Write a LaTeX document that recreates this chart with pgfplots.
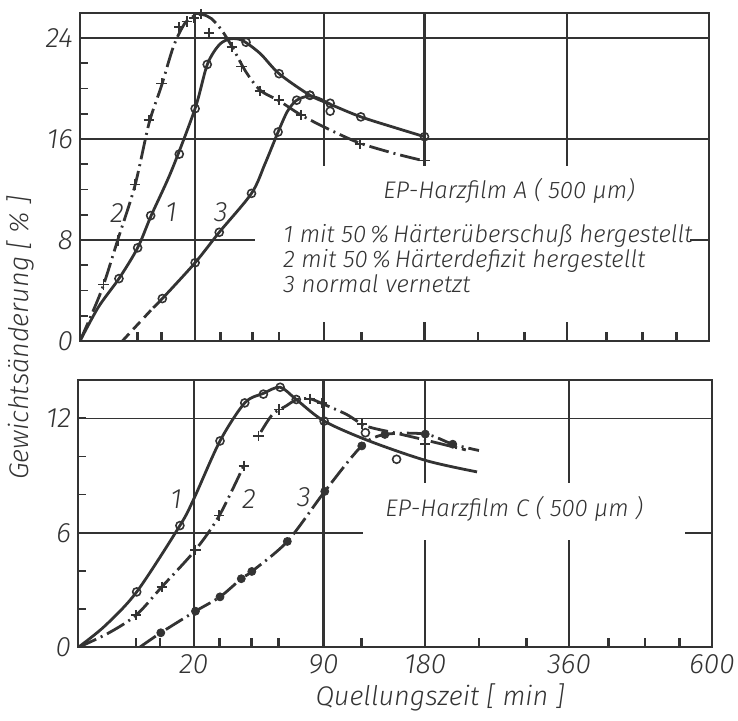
\documentclass[border=0pt]{standalone}
\usepackage{fontspec}
\setmainfont{Fira Sans}[UprightFont={* Light Italic}, ItalicFont={* Light Italic}, BoldFont={* Italic}]
\usepackage{pgfplots}
\pgfplotsset{compat=1.18}
\definecolor{ink}{HTML}{333333}
% x axis: square-root time scale (data given in minutes, plotted at sqrt(t))
\pgfplotsset{
  panel/.style={
    scale only axis,
    x filter/.expression={sqrt(x)},
    xmin=0, xmax=24.4949,
    xtick={4.4721,9.4868,13.4164,18.9737,24.4949},
    minor xtick={2.2361,3.1623,5.4772,6.7082,7.7460,10.9545,15.4919,17.3205,20.4939,21.9089,23.2379},
    xtick pos=bottom, ytick pos=left, tick align=inside,
    major tick length=4pt, minor tick length=4pt,
    every tick/.style={ink, line width=0.8pt},
    xmajorgrids=false, ymajorgrids=true,
    major grid style={ink, line width=0.7pt},
    axis line style={ink, line width=1pt},
    ticklabel style={font=\fontsize{14}{14}\selectfont, text=ink},
    /pgf/number format/assume math mode=true,
  },
  c1/.style={ink, line width=1.4pt, smooth, no markers},
  c2/.style={ink, line width=1.4pt, smooth, no markers, dash pattern=on 10pt off 2.5pt on 1pt off 2.5pt},
  mo/.style={only marks, mark=o, mark size=2pt, mark options={ink, fill=white, line width=0.8pt, solid}},
  mp/.style={only marks, mark=+, mark size=2.6pt, mark options={ink, line width=0.8pt, solid}},
  md/.style={only marks, mark=*, mark size=2pt, mark options={ink, fill=ink, solid}},
}
\newcommand\xgrid[1]{%
  \pgfplotsinvokeforeach{4.4721,9.4868,13.4164,18.9737}{%
    \draw[ink, line width=1.1pt] (axis cs:##1,0) -- (axis cs:##1,#1);}}
\newcommand\xticks[1]{%
  \pgfplotsinvokeforeach{2.2361,3.1623,5.4772,6.7082,7.7460,10.9545,15.4919,17.3205,20.4939,21.9089,23.2379}{%
    \draw[ink, line width=1.3pt] (axis cs:##1,0) -- (axis cs:##1,#1);}}
\begin{document}
\begin{tikzpicture}
\path[use as bounding box] (0pt,0pt) rectangle (369pt,360.5pt);
% ---------------- top panel ----------------
\begin{axis}[panel, at={(40pt,190pt)}, anchor=south west,
  width=314.5pt, height=164.15pt,
  ymin=0, ymax=26, ytick={0,8,16,24}, minor ytick={2,4,6,10,12,14,18,20,22},
  xticklabels={}]
\xgrid{26}
\fill[white] (axis description cs:0.278,0.058) rectangle (axis description cs:0.970,0.41);
\fill[white] (axis description cs:0.310,0.40) rectangle (axis description cs:0.970,0.533);
\xticks{0.75}
% curve 1
\addplot[c1] coordinates {(0,0) (0.52,2.70) (2.30,4.94) (5.04,7.38) (7.68,9.93) (12.69,13.48) (20.1,18.42) (24.55,21.88) (29.4,23.46) (34.4,23.93) (40.0,23.8) (49.2,22.77) (60.1,21.17) (80.2,19.46) (94.9,18.75) (119.6,17.75) (151.8,16.86) (180,16.18)};
\addplot[mo] coordinates {(2.30,4.94) (5.04,7.38) (7.57,9.93) (14.95,14.8) (20.1,18.4) (24.55,21.9) (41.8,23.66) (60.1,21.17) (80.2,19.46) (94.9,18.83) (119.6,17.75) (180,16.18)};
% curve 2
\addplot[c2] coordinates {(0,0) (0.226,2.21) (0.83,4.41) (2.14,7.96) (4.57,12.29) (7.24,17.26) (10.03,20.17) (13.26,23.33) (16.62,25.14) (20,25.77) (22.81,25.85) (26.19,25.53) (30.23,24.67) (35.0,23.33) (41.58,21.36) (49.24,19.86) (60.48,18.99) (74.18,17.89) (93.62,16.78) (118.5,15.68) (151.8,14.81) (180,14.26)};
\addplot[mp] coordinates {(0.85,4.47) (2.18,7.96) (4.62,12.4) (7.18,17.5) (10.03,20.4) (14.95,24.85) (17.27,25.3) (19.76,25.6) (22.1,25.9) (25.15,24.4) (35.0,23.3) (39.6,21.75) (49.0,19.8) (60.1,19.1) (74.0,17.9) (118.7,15.6) (180,14.3)};
% curve 3
\addplot[ink, line width=1.4pt, no markers, dash pattern=on 5pt off 3pt] coordinates {(2.72,0) (8.12,2.63)};
\addplot[c1] coordinates {(8.12,2.63) (10.28,3.36) (20.1,6.20) (29.4,8.61) (44.6,11.69) (51.9,14.03) (59.5,16.55) (65.3,18.2) (71.2,19.07) (79.2,19.39) (86.1,19.23) (94.9,18.75)};
\addplot[mo] coordinates {(10.28,3.36) (20.1,6.20) (29.4,8.61) (44.6,11.69) (59.5,16.55) (71.2,19.07) (80.2,19.46) (94.9,18.2)};
\end{axis}
% ---------------- bottom panel ----------------
\begin{axis}[panel, at={(39pt,36.75pt)}, anchor=south west,
  width=317pt, height=133.75pt,
  ymin=0, ymax=14, ytick={0,6,12}, minor ytick={2,4,8,10},
  xticklabels={20,90,180,360,600}]
\xgrid{14}
\fill[white] (axis description cs:0.4495,0.40) rectangle (axis description cs:0.957,0.616);
\xticks{0.5}
% curve 1
\addplot[c1] coordinates {(0,0) (1.065,1.12) (5.14,2.91) (15.5,6.38) (20,7.77) (30.1,10.81) (41.5,12.8) (51.3,13.3) (61.0,13.62) (71.1,12.98) (90.4,11.85) (126.5,10.81) (181.8,9.77) (237.7,9.19)};
\addplot[mo] coordinates {(5.14,2.91) (15.5,6.38) (30.1,10.81) (41.5,12.8) (51.3,13.26) (61.0,13.62) (71.1,12.98) (90.4,11.85) (123.3,11.24) (151.5,9.85)};
% curve 2
\addplot[c2] coordinates {(0,0) (1.34,0.74) (5.03,1.69) (10.48,3.17) (20.6,5.11) (29.8,6.90) (41.0,9.51)};
\addplot[c2] coordinates {(49.9,11.28) (56.5,12.20) (64.4,12.63) (71.3,12.97) (80.2,13.02) (90.4,12.72) (107.6,12.20) (123.9,11.59) (150.7,11.22) (176.6,10.90) (224.5,10.34)};
\addplot[mp] coordinates {(5.03,1.69) (10.48,3.17) (20.6,5.11) (29.8,6.90) (41.0,9.51) (48.6,11.07) (60.4,12.46) (80.2,13.01) (88.8,12.80) (120.3,11.71) (180,10.64)};
% curve 3
\addplot[c2] coordinates {(5.62,0) (10.23,0.77) (20.6,1.90) (30.1,2.65) (39.8,3.60) (45.1,3.98) (65.4,5.55) (90.9,8.17) (120.2,10.55) (140.6,11.15) (180,11.17) (209.6,10.64) (240,10.31)};
\addplot[md] coordinates {(10.23,0.77) (20.6,1.90) (30.1,2.65) (39.8,3.60) (45.1,3.98) (65.4,5.55) (90.9,8.17) (120.2,10.55) (140.6,11.15) (180,11.17) (209.6,10.64)};
\end{axis}
% ---------------- texts ----------------
\begin{scope}[every node/.style={text=ink, font=\fontsize{12}{14}\selectfont, inner sep=0pt}]
\node[anchor=base west] at (191.5pt,261pt) {EP-Harzfilm A ( 500 µm)};
\node[anchor=base west] at (141.5pt,239pt) {1 mit 50\,\%\,Härterüberschuß hergestellt};
\node[anchor=base west] at (141.5pt,226.5pt) {2 mit 50\,\%\,Härterdefizit hergestellt};
\node[anchor=base west] at (141.5pt,214pt) {3 normal vernetzt};
\node[anchor=base west] at (192.5pt,102pt) {EP-Harzfilm C ( 500 µm )};
\node[font=\fontsize{14}{14}\selectfont] at (58.5pt,254pt) {2};
\node[font=\fontsize{14}{14}\selectfont] at (85.5pt,254.5pt) {1};
\node[font=\fontsize{14}{14}\selectfont] at (110.5pt,254.5pt) {3};
\node[font=\fontsize{14}{14}\selectfont] at (88pt,111pt) {1};
\node[font=\fontsize{14}{14}\selectfont] at (124.5pt,111pt) {2};
\node[font=\fontsize{14}{14}\selectfont] at (152pt,112pt) {3};
\node[font=\fontsize{13.5}{14}\selectfont, rotate=90] at (10pt,191.5pt) {Gewichtsänderung [ \% ]};
\node[font=\fontsize{13.5}{14}\selectfont, anchor=base] at (220pt,7.5pt) {Quellungszeit [ min ]};
\end{scope}
\end{tikzpicture}
\end{document}
